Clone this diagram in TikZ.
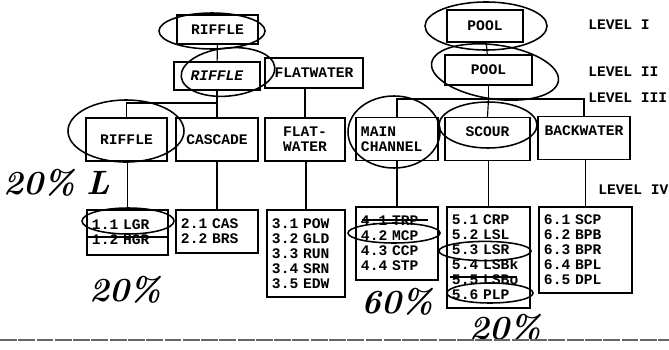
\documentclass[tikz,border=0pt]{standalone}
\usepackage{fontspec}
\setmonofont{Liberation Mono}
\usepackage{tikz}

\tikzset{
  box/.style={draw, line width=0.8pt, inner sep=0pt, align=center, minimum height=1.075cm,
    font=\ttfamily\bfseries\fontsize{10.4}{10.7}\selectfont},
  listbox/.style={box, align=left, inner xsep=0.125cm},
  lvl/.style={anchor=west, inner sep=0pt, font=\ttfamily\bfseries\fontsize{10.4}{10.7}\selectfont},
  hand/.style={inner sep=0pt, font=\bfseries\itshape\fontsize{24}{24}\selectfont},
  inkring/.style={line width=1.1pt},
  strike/.style={line width=0.9pt},
  link/.style={line width=0.8pt}
}

\begin{document}
\begin{tikzpicture}[x=0.025cm, y=-0.025cm]
\useasboundingbox (0,0) rectangle (669,349);

\node[box, minimum width=2.025cm, minimum height=0.725cm] (rifa) at (217.5,29.5) {RIFFLE};
\node[box, minimum width=1.9cm, minimum height=0.8cm] (poola) at (485,26) {POOL};

\node[box, minimum width=2.15cm, minimum height=0.7cm] (rifb) at (217,76) {\textit{RIFFLE}};
\node[box, minimum width=2.45cm, minimum height=0.75cm] (flatb) at (314,73) {FLATWATER};
\node[box, minimum width=2.175cm, minimum height=0.75cm] (poolb) at (488.5,70) {POOL};

\node[box, minimum width=2.025cm] (rifc) at (126.5,139.5) {RIFFLE};
\node[box, minimum width=2.05cm] (casc) at (217,139.5) {CASCADE};
\node[box, minimum width=2cm] (flatc) at (305,139.5) {FLAT-\\WATER};
\node[listbox, text width=1.8cm] (mainc) at (397,139) {MAIN\\CHANNEL};
\node[box, minimum width=2.125cm] (scourc) at (487.5,139) {SCOUR\\\phantom{X}};
\node[box, minimum width=2.3cm] (backc) at (584,138) {BACKWATER\\\phantom{X}};

\node[listbox, text width=1.775cm, minimum height=1.125cm] (rifd) at (127.5,232.5) {1.1 LGR\\1.2 HGR};
\node[listbox, text width=1.8cm] (casd) at (217,231.5) {2.1 CAS\\2.2 BRS};
\node[listbox, text width=1.7cm, minimum height=2.175cm] (flatd) at (306,253.5)
  {3.1 POW\\3.2 GLD\\3.3 RUN\\3.4 SRN\\3.5 EDW};
\node[listbox, text width=1.8cm, minimum height=1.825cm] (maind) at (397,243.5)
  {4.1 TRP\\4.2 MCP\\4.3 CCP\\4.4 STP};
\node[listbox, text width=1.825cm, minimum height=2.525cm] (scourd) at (488.5,257.5)
  {5.1 CRP\\5.2 LSL\\5.3 LSR\\5.4 LSBk\\5.5 LSBo\\5.6 PLP};
\node[listbox, text width=2.075cm, minimum height=2.15cm] (backd) at (585.5,250)
  {6.1 SCP\\6.2 BPB\\6.3 BPR\\6.4 BPL\\6.5 DPL};

\node[lvl] (lvone) at (588,25) {LEVEL I};
\node[lvl] (lvtwo) at (588,72) {LEVEL II};
\node[lvl] (lvthree) at (588,98) {LEVEL III};
\node[lvl] (lvfour) at (598,190) {LEVEL IV};

\coordinate (rbus) at (217,103);
\coordinate (pbus) at (488.5,99);
\draw[link] (rifa) -- (rifb);
\draw[link] (rifb) -- (rbus);
\draw[link] (rifc.north) |- (rbus) -| (casc.north);
\draw[link] (flatc.north) -- (flatc.north |- flatb.south);
\draw[link] (poola) -- (poolb);
\draw[link] (poolb) -- (pbus);
\draw[link] (mainc.north) |- (pbus) -| (backc.north);
\draw[link] (pbus) -- (scourc.north);
\draw[link] (rifd.north) -- (rifd.north |- rifc.south);
\draw[link] (casd.north) -- (casd.north |- casc.south);
\draw[link] (flatd.north) -- (flatd.north |- flatc.south);
\draw[link] (maind.north) -- (maind.north |- mainc.south);
\draw[link] (scourd.north) -- (scourd.north |- scourc.south);
\draw[link] (backd.north) -- (backd.north |- backc.south);

\draw[strike] (88,237) -- (167,237);
\draw[strike] (362,220) -- (428,220);
\draw[strike] (450,277) -- (517,277);

\draw[inkring] (212,31) ellipse [x radius=1.325cm, y radius=0.45cm];
\draw[inkring, rotate around={6:(228,72)}] (228,72) ellipse [x radius=1.175cm, y radius=0.6cm];
\draw[inkring] (126,131) ellipse [x radius=1.45cm, y radius=0.775cm];
\draw[inkring] (128,221) ellipse [x radius=1.15cm, y radius=0.325cm];
\draw[inkring] (486,26) ellipse [x radius=1.525cm, y radius=0.6cm];
\draw[inkring, rotate around={-8:(495,72)}] (495,72) ellipse [x radius=1.6cm, y radius=0.675cm];
\draw[inkring] (394,132) ellipse [x radius=1.15cm, y radius=0.9cm];
\draw[inkring] (488,125) ellipse [x radius=1.225cm, y radius=0.575cm];
\draw[inkring] (394,233) ellipse [x radius=1.15cm, y radius=0.25cm];
\draw[inkring] (485,251) ellipse [x radius=1.15cm, y radius=0.24cm];
\draw[inkring] (490,293) ellipse [x radius=1.075cm, y radius=0.25cm];

\node[hand] (pctone) at (57,183) {20\%\,\,L};
\node[hand] (pcttwo) at (125,290) {20\%};
\node[hand] (pctthree) at (397,302) {60\%};
\node[hand] (pctfour) at (505,328) {20\%};

\draw[black!60, line width=1.2pt, dash pattern=on 12pt off 1pt] (0,340) -- (669,340);
\end{tikzpicture}
\end{document}
